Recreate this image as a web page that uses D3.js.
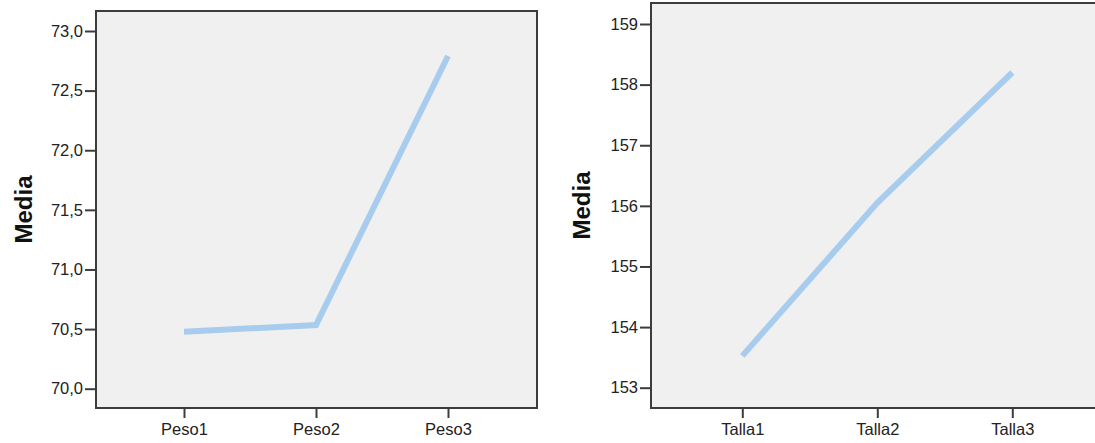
<!DOCTYPE html>
<html><head><meta charset="utf-8">
<script src="https://cdn.jsdelivr.net/npm/d3@7"></script>
<style>
html,body{margin:0;padding:0;background:#fff;}
svg{display:block;font-family:Arial,"Liberation Sans",sans-serif;}
</style></head>
<body><svg id="c" width="1095" height="443"></svg>
<script>
const pesoCategories = ["Peso1","Peso2","Peso3"];
const pesoValues = [70.477, 70.534, 72.79];
const pesoTicks = [70.0,70.5,71.0,71.5,72.0,72.5,73.0];
const tallaCategories = ["Talla1","Talla2","Talla3"];
const tallaValues = [153.525, 156.05, 158.2];
const tallaTicks = [153,154,155,156,157,158,159];
const yTitle = "Media";

const svg = d3.select("#c");
const lineColor = "#a8ccee";
const axisColor = "#3c3c3c";

function panel(cfg){
  const g = svg.append("g");
  const x = d3.scalePoint().domain(cfg.cats).range(cfg.xRange);
  const y = d3.scaleLinear().domain(cfg.yDomain).range(cfg.yRange);
  const f = cfg.fmt;
  // plot background
  g.append("rect").attr("x",cfg.box[0]).attr("y",cfg.box[1])
    .attr("width",cfg.box[2]-cfg.box[0]).attr("height",cfg.box[3]-cfg.box[1])
    .attr("fill","#f0f0f0").attr("stroke",axisColor).attr("stroke-width",2);
  // y axis
  const ya = g.append("g").attr("transform",`translate(${cfg.box[0]},0)`)
    .call(d3.axisLeft(y).tickValues(cfg.ticks).tickFormat(f).tickSize(11).tickPadding(2));
  ya.select(".domain").remove();
  ya.selectAll("line").attr("stroke",axisColor).attr("stroke-width",2);
  ya.selectAll("text").attr("font-size",16.5).attr("fill","#222");
  // x axis
  const xa = g.append("g").attr("transform",`translate(0,${cfg.box[3]})`)
    .call(d3.axisBottom(x).tickSize(10).tickPadding(5));
  xa.select(".domain").remove();
  xa.selectAll("line").attr("stroke",axisColor).attr("stroke-width",2);
  xa.selectAll("text").attr("font-size",16.5).attr("fill","#222");
  // line
  g.append("path").datum(cfg.vals)
    .attr("d", d3.line().x((d,i)=>x(cfg.cats[i])).y(d=>y(d)))
    .attr("fill","none").attr("stroke",lineColor).attr("stroke-width",6)
    .attr("stroke-linejoin","miter").attr("stroke-linecap","butt");
  // title
  const cy = (cfg.box[1]+cfg.box[3])/2;
  g.append("text").attr("transform",`translate(${cfg.titleX},${cy}) rotate(-90)`)
    .attr("text-anchor","middle").attr("dominant-baseline","central")
    .attr("font-size",24).attr("font-weight","bold").attr("fill","#111").text(yTitle);
}

panel({cats:pesoCategories, vals:pesoValues, ticks:pesoTicks,
  xRange:[184,448], yDomain:[70,73], yRange:[388.7,31],
  box:[96,11,537,408], titleX:23,
  fmt:d=>d3.format(".1f")(d).replace(".",",")});
panel({cats:tallaCategories, vals:tallaValues, ticks:tallaTicks,
  xRange:[742.3,1012.3], yDomain:[153,159], yRange:[387.7,24],
  box:[651,3,1110,408], titleX:581,
  fmt:d=>d3.format("d")(d)});
</script></body></html>
